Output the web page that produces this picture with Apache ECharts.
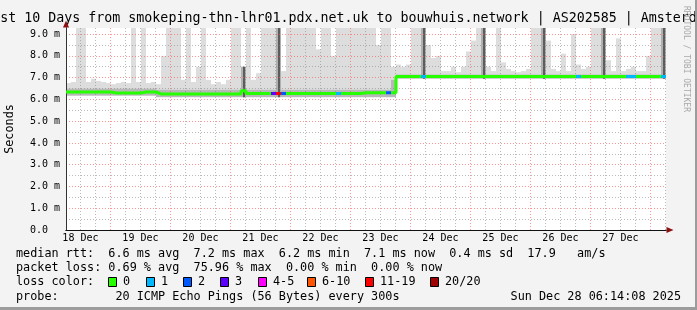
<!DOCTYPE html>
<html><head><meta charset="utf-8">
<script src="https://cdn.jsdelivr.net/npm/echarts@6/dist/echarts.min.js"></script>
<style>html,body{margin:0;padding:0;background:#f3f3f3;}#c{width:697px;height:310px;}</style>
</head><body><div id="c"></div>
<script>
// ---- data (hours counted from 18 Dec 00:00) ----
const windowStart = 6.2333;   // 18 Dec 06:14
const windowEnd = 246.2333;   // 28 Dec 06:14
const sampleHours = 2;
const dayLabels = ['18 Dec','19 Dec','20 Dec','21 Dec','22 Dec','23 Dec','24 Dec','25 Dec','26 Dec','27 Dec'];
const yTickValues = [0,1,2,3,4,5,6,7,8,9];
const yTickLabels = ['0.0  ','1.0 m','2.0 m','3.0 m','4.0 m','5.0 m','6.0 m','7.0 m','8.0 m','9.0 m'];

const median = [
 6.34,6.34,6.34,6.34,6.34,6.34,6.34,6.34,6.34,6.29,
 6.29,6.29,6.29,6.29,6.29,6.34,6.34,6.34,6.25,6.25,
 6.25,6.25,6.25,6.25,6.25,6.25,6.25,6.25,6.25,6.25,
 6.25,6.25,6.25,6.25,6.25,6.40,6.27,6.27,6.27,6.27,
 6.27,6.27,6.27,6.27,6.27,6.27,6.27,6.27,6.27,6.27,
 6.27,6.27,6.27,6.27,6.27,6.27,6.27,6.27,6.27,6.31,
 6.31,6.31,6.31,6.31,6.31,6.31,7.05,7.05,7.05,7.05,
 7.05,7.05,7.05,7.05,7.05,7.05,7.05,7.05,7.05,7.05,
 7.05,7.05,7.05,7.05,7.05,7.05,7.05,7.05,7.05,7.05,
 7.05,7.05,7.05,7.05,7.05,7.05,7.05,7.05,7.05,7.05,
 7.05,7.05,7.05,7.05,7.05,7.05,7.05,7.05,7.05,7.05,
 7.05,7.05,7.05,7.05,7.05,7.05,7.05,7.05,7.05,7.05];
const smokeLow = [
 6.17,6.17,6.17,6.17,6.17,6.17,6.17,6.17,6.17,6.17,
 6.17,6.17,6.17,6.17,6.17,6.17,6.17,6.17,6.10,6.10,
 6.10,6.10,6.10,6.10,6.10,6.10,6.10,6.10,6.10,6.10,
 6.10,6.10,6.10,6.10,6.10,6.10,6.10,6.10,6.10,6.10,
 6.10,6.10,6.10,6.10,6.10,6.10,6.10,6.10,6.10,6.10,
 6.10,6.10,6.10,6.10,6.10,6.10,6.10,6.10,6.10,6.10,
 6.10,6.10,6.10,6.10,6.10,6.10,6.95,6.95,6.95,6.95,
 6.95,6.95,6.95,6.95,6.95,6.95,6.95,6.95,6.95,6.95,
 6.95,6.95,6.95,6.95,6.95,6.95,6.95,6.95,6.95,6.95,
 6.95,6.95,6.95,6.95,6.95,6.95,6.95,6.95,6.95,6.95,
 6.95,6.95,6.95,6.95,6.95,6.95,6.95,6.95,6.95,6.95,
 6.95,6.95,6.95,6.95,6.95,6.95,6.95,6.95,6.95,6.95];
const smokeMid = [
 6.5,6.5,6.5,6.5,6.5,6.5,6.5,6.5,6.5,6.5,
 6.5,6.5,6.5,6.5,6.5,6.5,6.5,6.5,6.45,6.45,
 6.45,6.45,6.45,6.45,6.45,6.45,6.45,6.45,6.45,6.45,
 6.45,6.45,6.45,6.45,6.45,7.5,6.45,6.45,6.45,6.45,
 6.45,6.45,9.3,6.45,6.45,6.45,6.45,6.45,6.45,6.45,
 6.45,6.45,6.45,6.45,6.45,6.45,6.45,6.45,6.45,6.45,
 6.45,6.45,6.45,6.45,6.45,6.9,7.15,7.15,7.15,7.15,
 7.15,9.3,7.15,7.15,7.15,7.15,7.15,7.15,7.15,7.15,
 7.15,7.15,7.15,9.3,7.15,7.15,7.15,7.15,7.15,7.15,
 7.15,7.15,7.15,7.15,7.15,9.3,7.15,7.15,7.15,7.15,
 7.15,7.15,7.15,7.15,7.15,7.15,7.15,9.3,7.15,7.15,
 7.15,7.15,7.15,7.15,7.15,7.15,7.15,7.15,7.15,9.3];
const smokeMax = [
 6.75,6.8,9.3,9.3,6.8,6.95,6.85,6.8,6.75,6.7,
 6.75,6.8,6.75,9.3,6.8,9.3,6.75,6.8,6.7,8.0,
 9.3,9.3,9.3,6.9,9.3,6.8,7.5,9.3,6.9,6.7,
 6.8,6.7,6.9,9.3,9.3,7.5,9.3,6.9,7.2,9.3,
 9.3,9.3,9.3,7.3,9.3,9.3,9.3,9.3,9.3,9.3,
 8.3,9.3,9.3,8.0,9.3,9.3,9.3,9.3,9.3,9.3,
 9.3,9.3,8.5,9.3,9.3,7.5,7.6,7.5,7.6,9.3,
 9.3,9.3,8.5,7.9,8.0,7.3,7.3,7.5,7.25,7.5,
 8.2,8.7,9.3,9.3,7.5,7.3,9.3,7.7,7.4,7.3,
 7.25,7.3,7.4,9.3,9.3,9.3,8.7,7.4,7.3,8.1,
 7.3,9.0,7.6,7.4,7.5,9.3,9.3,9.3,7.8,7.3,
 8.8,7.3,7.4,7.5,7.3,7.3,8.0,9.3,9.3,9.3];
// loss class per sample: index into lossLabels
const lossClass = [
 0,0,0,0,0,0,0,0,0,0, 0,0,0,0,0,0,0,0,0,0,
 0,0,0,0,0,0,0,0,0,0, 0,0,0,0,0,0,0,0,0,0,
 0,3,6,2,0,0,0,0,0,0, 0,0,0,0,1,0,0,0,0,0,
 0,0,0,0,2,0,0,0,0,0, 0,1,0,0,0,0,0,0,0,0,
 0,0,0,0,0,0,0,0,0,0, 0,0,0,0,0,0,0,0,0,0,
 0,0,1,0,0,0,0,0,0,0, 0,0,1,1,0,0,0,0,0,1];
const lossLabels = ['0','1','2','3','4-5','6-10','11-19','20/20'];
const lossColors = ['#26ff00','#00b8ff','#0059ff','#5e00ff','#ff00ff','#ff5500','#ff0000','#a10000'];

const statLine1 = 'median rtt:  6.6 ms avg  7.2 ms max  6.2 ms min  7.1 ms now  0.4 ms sd  17.9   am/s';
const statLine2 = 'packet loss: 0.69 % avg  75.96 % max  0.00 % min  0.00 % now';
const probeLine = 'probe:        20 ICMP Echo Pings (56 Bytes) every 300s';
const stampText = 'Sun Dec 28 06:14:08 2025';
const titleText = 'Last 10 Days from smokeping-thn-lhr01.pdx.net.uk to bouwhuis.network | AS202585 | Amsterdam';

// ---- build ----
const MONO = 'DejaVu Sans Mono';
const n = median.length;
const left = i => windowStart + i * sampleHours;
const smokeData = [], medData = [];
for (let i = 0; i < n; i++) {
  smokeData.push([left(i), left(i) + sampleHours, smokeLow[i], smokeMid[i], smokeMax[i]]);
  medData.push([left(i), median[i]]);
}
medData.push([windowEnd, median[n - 1]]);

const pieces = [];
for (let i = 0; i < n; i++) {
  if (lossClass[i] > 0) pieces.push({gte: left(i), lt: left(i) + sampleHours, color: lossColors[lossClass[i]]});
  if (i > 0 && Math.abs(median[i] - median[i - 1]) > 0.5) pieces.push({gte: left(i) - 0.15, lt: left(i) + 0.15, color: '#202020'});
}

const majorX = [], minorX = [], labelX = [];
for (let d = 1; d <= 10; d++) majorX.push(d * 24);
for (let h = 12; h < windowEnd; h += 6) if (h % 24) minorX.push(h);
for (let d = 0; d < dayLabels.length; d++) labelX.push(d * 24 + 12);
const minorY = [];
for (let v = 0.5; v < 9.2; v += 1) minorY.push(v);

const dotGrey = {color: 'rgba(130,130,130,0.55)', type: [1, 2], width: 1};
const dotRed = {color: 'rgba(255,80,80,0.6)', type: [1, 2], width: 1};
const yMax = 9.28;

function renderSmoke(params, api) {
  const x0 = api.value(0), x1 = api.value(1), lo = api.value(2), md = api.value(3), hi = api.value(4);
  const rect = (a, b, fill, inset, w) => {
    const p0 = api.coord([x0, b]), p1 = api.coord([x1, a]);
    const x = p0[0] + (inset || 0);
    const width = w || (p1[0] - p0[0]);
    return {type: 'rect', shape: {x: x, y: p0[1], width: width, height: p1[1] - p0[1]}, style: {fill: fill}};
  };
  const children = [];
  if (hi > md) children.push(rect(md, hi, '#dddddd'));
  const dense = md - lo > 1.0;
  children.push(rect(lo, md, dense ? '#b0b0b0' : '#b8b8b8'));
  if (dense) children.push(rect(lo, md, '#5c5c5c', 2, 2));
  return {type: 'group', children: children};
}

const chart = echarts.init(document.getElementById('c'), null, {renderer: 'canvas'});
chart.setOption({
  animation: false,
  backgroundColor: '#f3f3f3',
  grid: {left: 66, top: 28, width: 600, height: 202, show: true, backgroundColor: '#ffffff', borderWidth: 0,
         containLabel: false, outerBoundsMode: 'none'},
  xAxis: [
    {type: 'value', min: windowStart, max: windowEnd, position: 'bottom', z: 4,
     axisLine: {show: false}, axisLabel: {show: false}, axisTick: {show: false, customValues: minorX},
     splitLine: {show: true, lineStyle: dotGrey}},
    {type: 'value', min: windowStart, max: windowEnd, position: 'bottom', z: 4,
     axisLine: {show: true, onZero: false, symbol: ['none', 'triangle'], symbolSize: [6, 7], symbolOffset: [0, 4], lineStyle: {color: '#8c1010', width: 1}},
     axisLabel: {show: false}, axisTick: {show: false}, splitLine: {show: false}},
    {type: 'value', min: windowStart, max: windowEnd, position: 'bottom', z: 5,
     axisLine: {show: true, onZero: false, lineStyle: {color: '#111', width: 1}},
     axisTick: {show: false, customValues: majorX},
     splitLine: {show: true, lineStyle: dotRed},
     axisLabel: {show: true, customValues: labelX, margin: 3, fontFamily: MONO, fontSize: 10, color: '#000',
       formatter: v => dayLabels[Math.floor(v / 24)]}}
  ],
  yAxis: [
    {type: 'value', min: 0, max: yMax, position: 'left', z: 4, axisLine: {show: false}, axisLabel: {show: false},
     axisTick: {show: false, customValues: minorY}, splitLine: {show: true, lineStyle: dotGrey}},
    {type: 'value', min: 0, max: yMax, position: 'left', z: 4,
     axisLine: {show: true, onZero: false, symbol: ['none', 'triangle'], symbolSize: [6, 7], symbolOffset: [0, 4], lineStyle: {color: '#8c1010', width: 1}},
     axisLabel: {show: false}, axisTick: {show: false}, splitLine: {show: false}},
    {type: 'value', min: 0, max: yMax, position: 'left', z: 5,
     name: 'Seconds', nameLocation: 'middle', nameGap: 50, nameRotate: 90,
     nameTextStyle: {fontFamily: MONO, fontSize: 11.8, color: '#000'},
     axisLine: {show: true, onZero: false, lineStyle: {color: '#333', width: 1}},
     axisTick: {show: false, customValues: yTickValues.filter(v => v > 0)},
     splitLine: {show: true, lineStyle: dotRed},
     axisLabel: {show: true, customValues: yTickValues, margin: 6, fontFamily: MONO, fontSize: 10, color: '#000',
       formatter: v => yTickLabels[Math.round(v)]}}
  ],
  visualMap: {type: 'piecewise', show: false, dimension: 0, seriesIndex: 2, pieces: pieces,
              outOfRange: {color: lossColors[0]}},
  series: [
    {type: 'custom', data: smokeData, renderItem: renderSmoke, clip: true, z: 2, silent: true,
     encode: {x: [0, 1], y: [2, 3, 4]}},
    {type: 'line', data: medData, step: 'end', symbol: 'none', lineStyle: {color: '#202020', width: 1}, z: 6},
    {type: 'line', data: medData, step: 'end', symbol: 'none', lineStyle: {width: 3}, z: 7}
  ],
  graphic: (function () {
    const g = [];
    const txt = (x, y, s, extra) => g.push(Object.assign({type: 'text', x: x, y: y, silent: true,
      style: Object.assign({text: s, fontFamily: MONO, fontSize: 11.8, fill: '#000', verticalAlign: 'middle', align: 'left'}, extra || {})}));
    txt(348.5, 19, titleText, {fontSize: 13.3, align: 'center'});
    txt(16, 254, statLine1);
    txt(16, 268, statLine2);
    txt(16, 282, 'loss color:');
    const boxX = [108, 146, 183, 220, 258, 307, 365, 430];
    lossLabels.forEach((lab, k) => {
      g.push({type: 'rect', shape: {x: boxX[k] + 0.5, y: 277.5, width: 8, height: 9}, silent: true,
              style: {fill: lossColors[k], stroke: '#000', lineWidth: 1}});
      txt(boxX[k] + 15, 282, lab);
    });
    txt(16, 297, probeLine);
    txt(681, 297, stampText, {align: 'right'});
    g.push({type: 'text', x: 686, y: 59, rotation: -Math.PI / 2, silent: true,
            style: {text: 'RRDTOOL / TOBI OETIKER', fontFamily: MONO, fontSize: 8, fill: '#a8a8a8', align: 'center', verticalAlign: 'middle'}});
    g.push({type: 'rect', shape: {x: 695, y: 0, width: 2, height: 310}, silent: true, style: {fill: '#9c9c9c'}});
    g.push({type: 'rect', shape: {x: 0, y: 307, width: 697, height: 3}, silent: true, style: {fill: '#9c9c9c'}});
    return g;
  })()
});
</script></body></html>
